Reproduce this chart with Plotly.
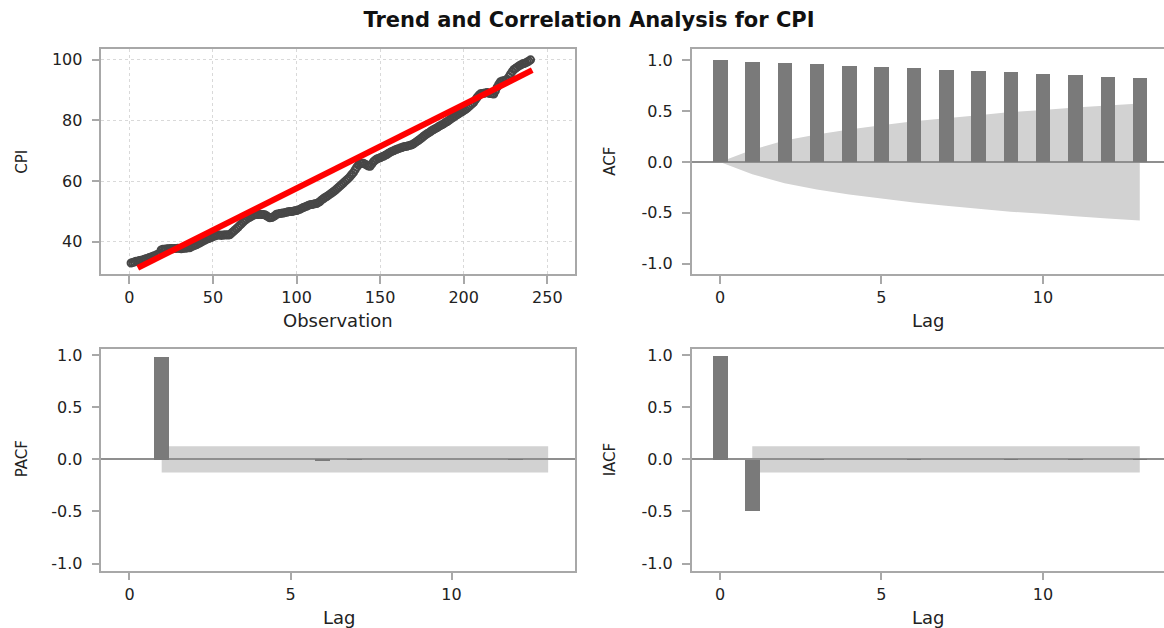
import plotly.graph_objects as go

# Monthly CPI, observations 1..240
cpi = [
    33.0, 33.2, 33.3, 33.6, 33.6, 33.8, 33.9, 34.0, 34.2, 34.4, 34.6, 34.8,
    35.0, 35.2, 35.4, 35.6, 35.9, 36.2, 37.3, 37.5, 37.5, 37.6, 37.7, 37.7,
    37.8, 37.7, 37.8, 37.8, 37.9, 37.8, 37.7, 37.8, 37.9, 37.9, 38.0, 38.0,
    38.3, 38.6, 38.8, 39.0, 39.3, 39.6, 39.9, 40.2, 40.5, 40.8, 41.0, 41.2,
    41.4, 41.7, 41.9, 42.1, 42.2, 42.2, 42.1, 42.2, 42.2, 42.3, 42.2, 42.3,
    42.8, 43.3, 43.8, 44.3, 44.8, 45.4, 45.9, 46.5, 47.0, 47.4, 47.8, 48.1,
    48.4, 48.7, 48.9, 49.0, 49.0, 49.1, 49.0, 49.0, 48.9, 48.6, 48.2, 47.9,
    48.0, 48.2, 48.6, 49.1, 49.2, 49.3, 49.4, 49.5, 49.6, 49.7, 49.9, 50.0,
    50.0, 50.1, 50.2, 50.3, 50.5, 50.7, 51.0, 51.3, 51.5, 51.7, 52.0, 52.2,
    52.3, 52.4, 52.5, 52.6, 52.9, 53.3, 53.8, 54.2, 54.6, 54.9, 55.3, 55.7,
    56.1, 56.5, 56.9, 57.4, 57.9, 58.4, 58.9, 59.4, 59.9, 60.4, 60.9, 61.5,
    62.2, 62.8, 63.7, 64.6, 65.3, 65.8, 65.9, 65.9, 65.6, 65.3, 65.0, 64.9,
    65.6, 66.4, 66.9, 67.3, 67.5, 67.7, 68.0, 68.2, 68.5, 68.8, 69.2, 69.5,
    69.8, 70.0, 70.3, 70.5, 70.7, 70.9, 71.1, 71.3, 71.4, 71.5, 71.7, 71.8,
    72.0, 72.3, 72.7, 73.1, 73.5, 73.9, 74.3, 74.8, 75.2, 75.6, 75.9, 76.3,
    76.7, 77.0, 77.3, 77.6, 78.0, 78.3, 78.6, 78.9, 79.3, 79.6, 80.0, 80.4,
    80.8, 81.1, 81.5, 81.9, 82.2, 82.6, 82.9, 83.3, 83.6, 84.0, 84.5, 85.0,
    85.5, 86.0, 86.8, 87.6, 88.3, 88.8, 88.9, 89.0, 89.1, 89.2, 89.0, 88.9,
    88.8, 88.7, 89.8, 91.0, 92.0, 92.8, 93.0, 93.1, 93.3, 93.6, 94.4, 95.3,
    96.1, 96.8, 97.2, 97.6, 98.0, 98.3, 98.6, 98.8, 99.0, 99.3, 99.6, 100.0,
]
obs = list(range(1, len(cpi) + 1))

# Fitted linear trend (end points)
trend_obs = [5, 241]
trend_cpi = [31.4, 96.6]

# Autocorrelations
acf_lags = list(range(0, 14))
acf = [1.0, 0.98, 0.968, 0.955, 0.942, 0.929, 0.916, 0.903, 0.89, 0.877,
       0.865, 0.852, 0.836, 0.823]
acf_band = [0.0, 0.12, 0.21, 0.27, 0.32, 0.36, 0.40, 0.43, 0.46, 0.49,
            0.51, 0.535, 0.555, 0.575]

pacf_lags = list(range(1, 14))
pacf = [0.985, 0.0, 0.0, 0.0, 0.0, -0.008, 0.006, 0.0, 0.0, 0.0, 0.0, 0.005, 0.0]

iacf_lags = list(range(0, 14))
iacf = [1.0, -0.49, 0.0, 0.005, 0.0, 0.0, 0.005, 0.0, 0.0, 0.005, 0.0,
        0.005, 0.0, 0.006]

# Two-standard-error limits for PACF / IACF
limit_lags = [1, 13]
limit_value = 0.127

corr_ticks = [-1.0, -0.5, 0.0, 0.5, 1.0]
corr_ticktext = ["-1.0", "-0.5", "0.0", "0.5", "1.0"]
lag_ticks = [0, 5, 10]
obs_ticks = [0, 50, 100, 150, 200, 250]
cpi_ticks = [40, 60, 80, 100]

W, H = 1164, 628
FONT = "DejaVu Sans"
LINE = "#a8a8a8"
BAR = "#7a7a7a"
BAND = "#d2d2d2"


def px_x(p):
    return p / W


def px_y(p):
    return 1 - p / H


left_dom = [px_x(101.4), px_x(575.2)]
right_dom = [px_x(691.7), 1.0]
top_dom = [px_y(273.3), px_y(46.7)]
bot_dom = [px_y(572.3), px_y(348.3)]

axis_common = dict(
    showline=True, linecolor=LINE, linewidth=1.5,
    ticks="outside", ticklen=8, tickwidth=1.5, tickcolor=LINE,
    tickfont=dict(family=FONT, size=16, color="#222"),
    showgrid=False, zeroline=False, fixedrange=True,
)

fig = go.Figure()

# Top-left: CPI series with trend
fig.add_trace(go.Scatter(
    x=obs, y=cpi, mode="markers", xaxis="x", yaxis="y",
    marker=dict(symbol="circle-open", size=7, color="#474747",
                line=dict(width=2, color="#474747")),
    showlegend=False,
))
fig.add_trace(go.Scatter(
    x=trend_obs, y=trend_cpi, mode="lines", xaxis="x", yaxis="y",
    line=dict(color="#ff0000", width=6), showlegend=False,
))

# Top-right: ACF
fig.add_trace(go.Bar(x=acf_lags, y=acf, width=0.45, xaxis="x2", yaxis="y2",
                     marker=dict(color=BAR, line=dict(width=0)), showlegend=False))
# Bottom-left: PACF
fig.add_trace(go.Bar(x=pacf_lags, y=pacf, width=0.45, xaxis="x3", yaxis="y3",
                     marker=dict(color=BAR, line=dict(width=0)), showlegend=False))
# Bottom-right: IACF
fig.add_trace(go.Bar(x=iacf_lags, y=iacf, width=0.45, xaxis="x4", yaxis="y4",
                     marker=dict(color=BAR, line=dict(width=0)), showlegend=False))

# Confidence bands drawn beneath the bars
upper = " L ".join(f"{l},{b}" for l, b in zip(acf_lags, acf_band))
lower = " L ".join(f"{l},{-b}" for l, b in zip(reversed(acf_lags), reversed(acf_band)))
shapes = [
    dict(type="path", path=f"M {upper} L {lower} Z", xref="x2", yref="y2",
         fillcolor=BAND, line=dict(width=0), layer="below"),
    dict(type="rect", x0=limit_lags[0], x1=limit_lags[1], y0=-limit_value,
         y1=limit_value, xref="x3", yref="y3", fillcolor=BAND,
         line=dict(width=0), layer="below"),
    dict(type="rect", x0=limit_lags[0], x1=limit_lags[1], y0=-limit_value,
         y1=limit_value, xref="x4", yref="y4", fillcolor=BAND,
         line=dict(width=0), layer="below"),
]

corr_y = dict(axis_common, tickmode="array", tickvals=corr_ticks,
              ticktext=corr_ticktext, ticklabelstandoff=6,
              zeroline=True, zerolinecolor="#8f8f8f", zerolinewidth=1.5)
lag_x = dict(axis_common, tickmode="array", tickvals=lag_ticks,
             ticklabelstandoff=0, mirror=True)

fig.update_layout(
    width=W, height=H,
    margin=dict(l=0, r=0, t=0, b=0),
    paper_bgcolor="white", plot_bgcolor="white",
    barmode="overlay", bargap=0,
    shapes=shapes,
    title=dict(text="Trend and Correlation Analysis for CPI", x=px_x(589),
               xanchor="center", y=px_y(20), yanchor="middle",
               font=dict(family=FONT, size=21, color="#111", weight="bold")),
    xaxis=dict(axis_common, domain=left_dom, range=[-16.75, 266.7], anchor="y",
               tickmode="array", tickvals=obs_ticks, mirror=True,
               showgrid=True, gridcolor="#d9d9d9", griddash="dot", gridwidth=1,
               ticklabelstandoff=0),
    yaxis=dict(axis_common, domain=top_dom, range=[29.33, 103.47], anchor="x",
               tickmode="array", tickvals=cpi_ticks, mirror=True,
               showgrid=True, gridcolor="#d9d9d9", griddash="dot", gridwidth=1,
               ticklabelstandoff=6),
    xaxis2=dict(lag_x, domain=right_dom, range=[-0.876, 13.75], anchor="y2"),
    yaxis2=dict(corr_y, domain=top_dom, range=[-1.103, 1.107], anchor="x2",
                mirror=False),
    xaxis3=dict(lag_x, domain=left_dom, range=[-0.872, 13.84], anchor="y3"),
    yaxis3=dict(corr_y, domain=bot_dom, range=[-1.069, 1.064], anchor="x3",
                mirror=True),
    xaxis4=dict(lag_x, domain=right_dom, range=[-0.876, 13.75], anchor="y4"),
    yaxis4=dict(corr_y, domain=bot_dom, range=[-1.069, 1.064], anchor="x4",
                mirror=False),
)

# Axis titles
title_font = dict(family=FONT, size=18, color="#222")
ytitle_font = dict(family=FONT, size=15, color="#222")
labels = [
    ("Observation", 338, 320, 0, title_font),
    ("Lag", 928, 320, 0, title_font),
    ("Lag", 339, 619, 0, title_font),
    ("Lag", 928, 619, 0, title_font),
    ("CPI", 22, 160, -90, ytitle_font),
    ("ACF", 610, 160, -90, ytitle_font),
    ("PACF", 22, 460, -90, ytitle_font),
    ("IACF", 610, 460, -90, ytitle_font),
]
for text, x, y, ang, f in labels:
    fig.add_annotation(text=text, x=px_x(x), y=px_y(y), xref="paper", yref="paper",
                       xanchor="center", yanchor="middle", textangle=ang,
                       showarrow=False, font=f)

fig.write_html("out.html")
